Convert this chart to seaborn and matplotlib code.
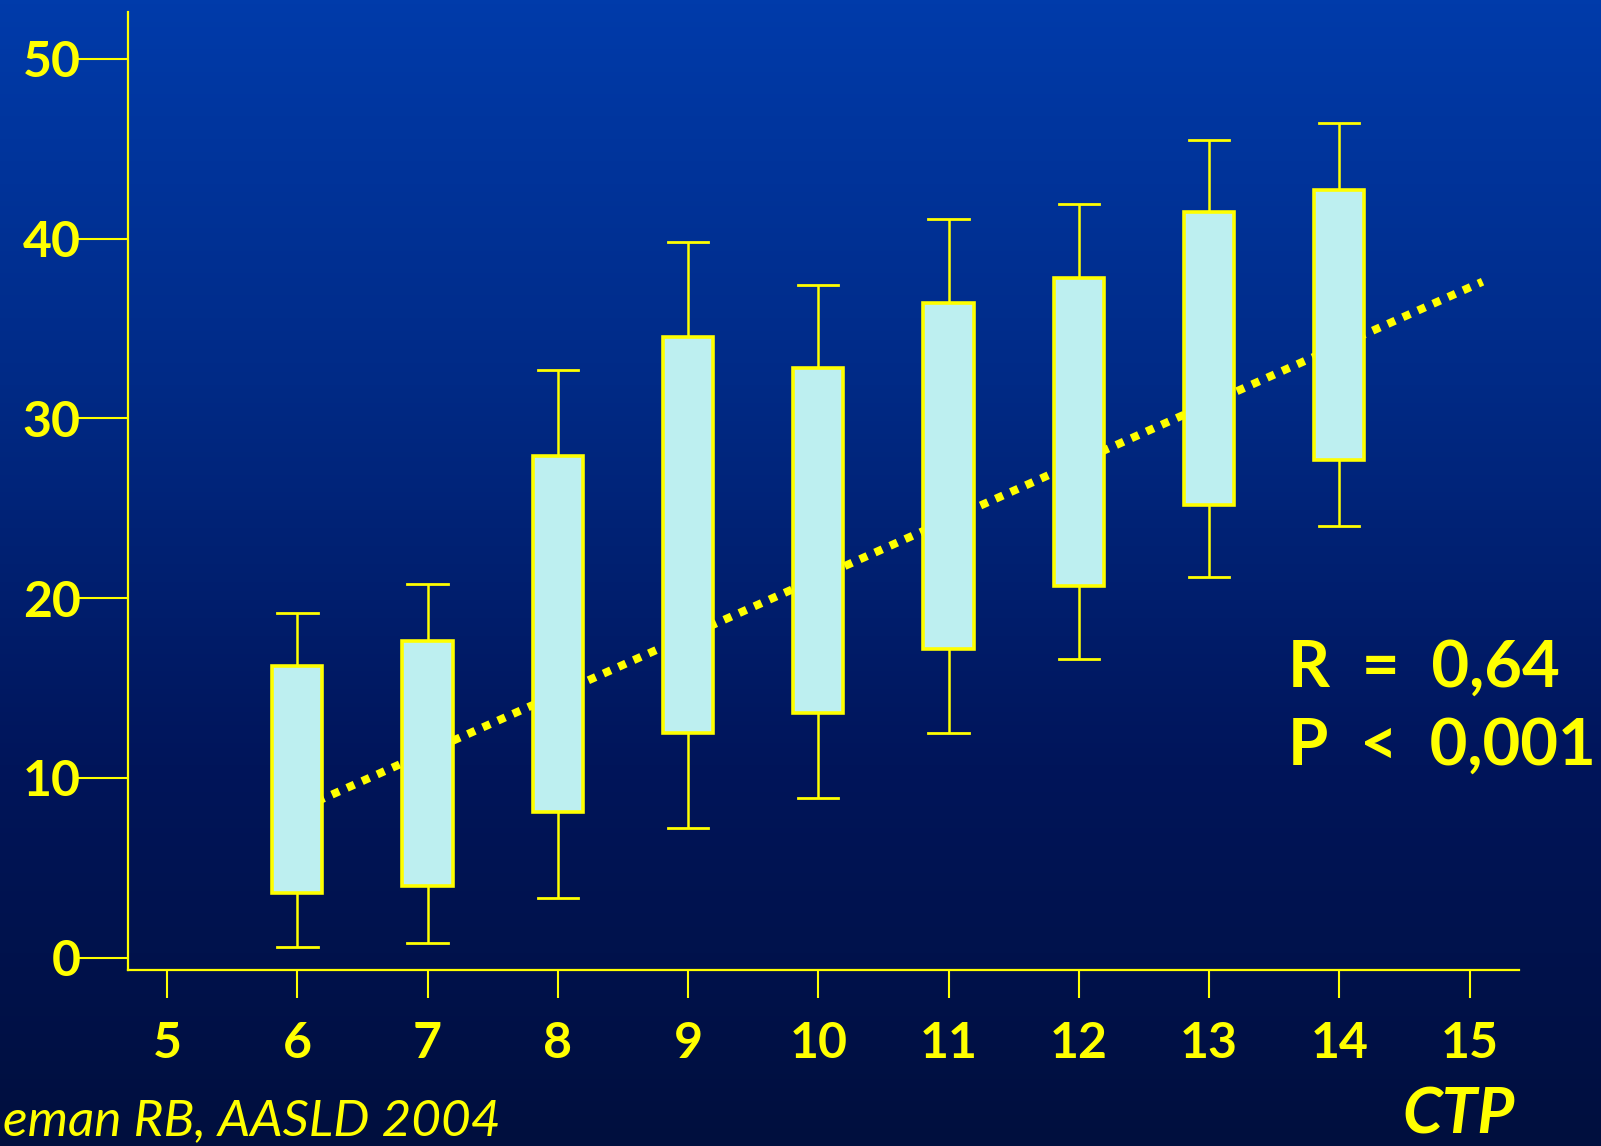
import numpy as np
import pandas as pd
import seaborn as sns
import matplotlib.pyplot as plt
from matplotlib.colors import LinearSegmentedColormap

# CTP score groups and box statistics
ctp = [6, 7, 8, 9, 10, 11, 12, 13, 14]
whisk_lo = [0.6, 0.8, 3.3, 7.2, 8.9, 12.5, 16.6, 21.2, 24.0]
q1 = [3.6, 4.0, 8.1, 12.5, 13.6, 17.2, 20.7, 25.2, 27.7]
q3 = [16.2, 17.6, 27.9, 34.5, 32.8, 36.4, 37.8, 41.5, 42.7]
whisk_hi = [19.2, 20.8, 32.7, 39.8, 37.4, 41.1, 41.9, 45.5, 46.4]

# dotted regression line
fit_x = [6.15, 15.1]
fit_y = [8.7, 37.6]

x_ticks = [5, 6, 7, 8, 9, 10, 11, 12, 13, 14, 15]
y_ticks = [0, 10, 20, 30, 40, 50]

YEL = '#FFFF00'
BOX = '#BDEFF0'
W, H = 1601, 1146

# five points per group -> quartiles / min / max come out exactly
rows = []
for i in range(len(ctp)):
    mid = (q1[i] + q3[i]) / 2
    for v in [whisk_lo[i], q1[i], mid, q3[i], whisk_hi[i]]:
        rows.append({'ctp': ctp[i], 'val': v})
df = pd.DataFrame(rows)

fig = plt.figure(figsize=(W / 100, H / 100), dpi=100)

# background gradient
bg = fig.add_axes([0, 0, 1, 1])
cmap = LinearSegmentedColormap.from_list('slide', ['#003BAA', '#002A86', '#00155A', '#000F3E'])
grad = np.linspace(0, 1, 256).reshape(-1, 1)
bg.imshow(grad, aspect='auto', cmap=cmap, extent=[0, 1, 0, 1])
bg.axis('off')
bg.set_zorder(-5)

ax = fig.add_axes([128 / W, 176 / H, (1519 - 128) / W, (1134 - 176) / H])
ax.patch.set_alpha(0)

sns.lineplot(x=fit_x, y=fit_y, ax=ax, color=YEL, linewidth=5.8,
             linestyle=(0, (1, 1.05)), dash_capstyle='butt', zorder=1)

sns.boxplot(data=df, x='ctp', y='val', ax=ax, native_scale=True, width=0.385,
            whis=(0, 100), showfliers=False, color=BOX, saturation=1,
            linecolor=YEL, linewidth=2.2, capwidths=0.31,
            boxprops={'facecolor': BOX, 'edgecolor': YEL, 'linewidth': 2.6, 'zorder': 3},
            whiskerprops={'color': YEL, 'linewidth': 1.8},
            capprops={'color': YEL, 'linewidth': 2.0},
            medianprops={'linewidth': 0, 'visible': False})

ax.set_xlim(4.70, 15.38)
ax.set_ylim(-0.68, 52.6)
ax.set_xticks(x_ticks)
ax.set_xticklabels([str(t) for t in x_ticks])
ax.set_yticks(y_ticks)
ax.set_yticklabels([str(t) for t in y_ticks])
ax.set_xlabel('')
ax.set_ylabel('')

for s in ['top', 'right']:
    ax.spines[s].set_visible(False)
for s in ['left', 'bottom']:
    ax.spines[s].set_color(YEL)
    ax.spines[s].set_linewidth(1.6)

ax.tick_params(axis='y', colors=YEL, length=37, width=1.5, pad=-3, direction='out')
ax.tick_params(axis='x', colors=YEL, length=20, width=1.5, pad=17, direction='out')
for lab in ax.get_xticklabels() + ax.get_yticklabels():
    lab.set_fontfamily('Lato')
    lab.set_fontweight('bold')
    lab.set_fontsize(36)
    lab.set_color(YEL)

fig.text(1288 / W, 1 - 687 / H, 'R  =  0,64', color=YEL, fontfamily='Lato',
         fontweight='bold', fontsize=47, va='baseline', ha='left')
fig.text(1288 / W, 1 - 765 / H, 'P  <  0,001', color=YEL, fontfamily='Lato',
         fontweight='bold', fontsize=47, va='baseline', ha='left')
fig.text(1402 / W, 1 - 1143 / H, 'CTP', color=YEL, fontfamily='Lato',
         fontweight='bold', fontstyle='italic', fontsize=46, va='bottom', ha='left')
fig.text(500 / W, 1 - 1144 / H, 'eman RB, AASLD 2004', color=YEL, fontfamily='Lato',
         fontstyle='italic', fontsize=37, va='bottom', ha='right')

fig.savefig('out.png', dpi=100)
